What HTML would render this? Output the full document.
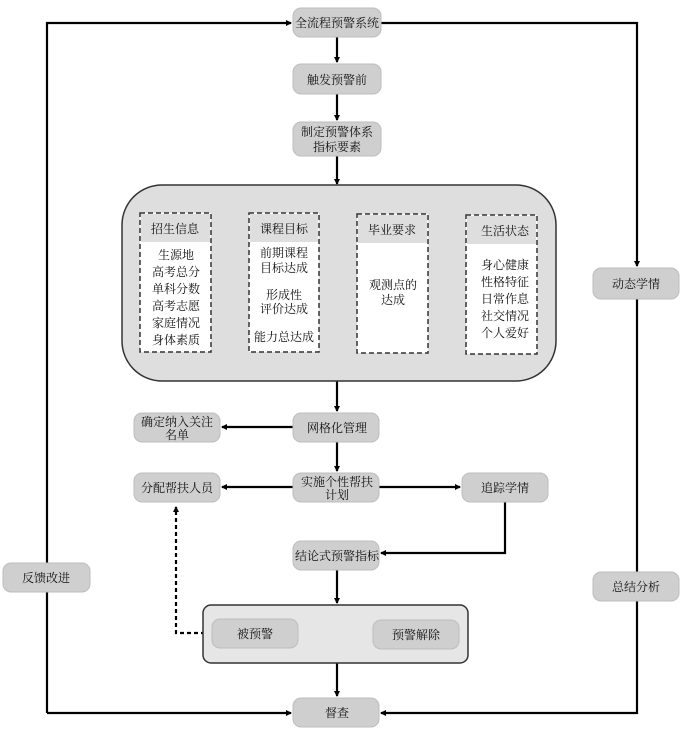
<!DOCTYPE html>
<html><head><meta charset="utf-8"><style>
body{margin:0;background:#fff;}
text{font-family:"Liberation Serif","Noto Serif CJK SC","Noto Sans CJK SC",serif;font-size:12px;fill:#111;text-anchor:middle;}
.b{fill:#cfcfcf;stroke:#bdbdbd;stroke-width:1;}
.l{stroke:#000;stroke-width:2.2;fill:none;}
</style></head><body>
<svg width="681" height="729" viewBox="0 0 681 729" xmlns="http://www.w3.org/2000/svg">
<defs><marker id="a" markerWidth="6" markerHeight="6" refX="5" refY="3" orient="auto" markerUnits="userSpaceOnUse"><path d="M0,0 L6,3 L0,6 z" fill="#000"/></marker></defs>
<!-- outer loop lines -->
<path class="l" d="M47,713 V23 H291" marker-end="url(#a)"/>
<path class="l" d="M381,23 H637 V266" marker-end="url(#a)"/>
<path class="l" d="M637,299 V713 H381" marker-end="url(#a)"/>
<path class="l" d="M47,713 H291" marker-end="url(#a)"/>
<!-- vertical main -->
<path class="l" d="M337,37 V62" marker-end="url(#a)"/>
<path class="l" d="M337,94 V120" marker-end="url(#a)"/>
<path class="l" d="M337,156 V184" marker-end="url(#a)"/>
<path class="l" d="M337,381 V411" marker-end="url(#a)"/>
<path class="l" d="M337,442 V471" marker-end="url(#a)"/>
<path class="l" d="M293,427 H222" marker-end="url(#a)"/>
<path class="l" d="M293,487 H222" marker-end="url(#a)"/>
<path class="l" d="M379,487 H460" marker-end="url(#a)"/>
<path class="l" d="M505,502 V553 H381" marker-end="url(#a)"/>
<path class="l" d="M337,570 V603" marker-end="url(#a)"/>
<path class="l" d="M337,663 V696" marker-end="url(#a)"/>
<path d="M212,633 H176 V507" stroke="#000" stroke-width="2.2" stroke-dasharray="4,3" fill="none" marker-end="url(#a)"/>
<!-- boxes -->
<rect class="b" x="293" y="8" width="88" height="29" rx="8"/><text x="337" y="27">全流程预警系统</text>
<rect class="b" x="293" y="64" width="88" height="30" rx="8"/><text x="337" y="84">触发预警前</text>
<rect class="b" x="293" y="122" width="88" height="34" rx="8"/><text x="337" y="136">制定预警体系</text><text x="337" y="151">指标要素</text>
<rect x="122" y="185" width="434" height="196" rx="40" fill="#dedede" stroke="#333" stroke-width="1.5"/>
<g stroke="#333" stroke-width="1.5" stroke-dasharray="5,3">
<rect x="140" y="213" width="71" height="139" fill="#fff"/>
<rect x="249" y="213" width="70" height="139" fill="#fff"/>
<rect x="357" y="214" width="71" height="139" fill="#fff"/>
<rect x="466" y="215" width="71" height="139" fill="#fff"/>
</g>
<rect x="141" y="214" width="69" height="28" fill="#dedede"/>
<rect x="250" y="214" width="68" height="28" fill="#dedede"/>
<rect x="358" y="215" width="69" height="28" fill="#dedede"/>
<rect x="467" y="216" width="69" height="28" fill="#dedede"/>
<g style="font-family:'Noto Sans CJK SC',sans-serif">
<text x="175" y="233">招生信息</text><text x="284" y="233">课程目标</text><text x="392" y="234">毕业要求</text><text x="505" y="235">生活状态</text>
<text x="176" y="259">生源地</text><text x="176" y="276">高考总分</text><text x="176" y="293">单科分数</text><text x="176" y="310">高考志愿</text><text x="176" y="327">家庭情况</text><text x="176" y="344">身体素质</text>
<text x="284" y="257">前期课程</text><text x="284" y="272">目标达成</text><text x="284" y="299">形成性</text><text x="284" y="313">评价达成</text><text x="284" y="341">能力总达成</text>
<text x="393" y="289">观测点的</text><text x="393" y="304">达成</text>
<text x="505" y="269">身心健康</text><text x="505" y="286">性格特征</text><text x="505" y="303">日常作息</text><text x="505" y="320">社交情况</text><text x="505" y="337">个人爱好</text>
</g>
<rect class="b" x="293" y="413" width="86" height="29" rx="8"/><text x="337" y="432">网格化管理</text>
<rect class="b" x="134" y="413" width="86" height="29" rx="8"/><text x="177" y="426">确定纳入关注</text><text x="177" y="439">名单</text>
<rect class="b" x="293" y="473" width="86" height="29" rx="8"/><text x="337" y="486">实施个性帮扶</text><text x="337" y="499">计划</text>
<rect class="b" x="134" y="473" width="86" height="29" rx="8"/><text x="177" y="492">分配帮扶人员</text>
<rect class="b" x="462" y="473" width="86" height="29" rx="8"/><text x="505" y="492">追踪学情</text>
<rect class="b" x="293" y="541" width="86" height="29" rx="8"/><text x="337" y="560">结论式预警指标</text>
<rect x="203" y="605" width="265" height="58" rx="8" fill="#e6e6e6" stroke="#333" stroke-width="1.5"/>
<rect class="b" x="212" y="619" width="86" height="29" rx="8"/><text x="255" y="638">被预警</text>
<rect class="b" x="373" y="620" width="86" height="29" rx="8"/><text x="416" y="639">预警解除</text>
<rect class="b" x="293" y="698" width="86" height="29" rx="8"/><text x="337" y="717">督查</text>
<rect class="b" x="593" y="268" width="86" height="31" rx="8"/><text x="636" y="288">动态学情</text>
<rect class="b" x="593" y="572" width="86" height="29" rx="8"/><text x="636" y="591">总结分析</text>
<rect class="b" x="3" y="563" width="87" height="29" rx="8"/><text x="46" y="582">反馈改进</text>
</svg>
</body></html>
